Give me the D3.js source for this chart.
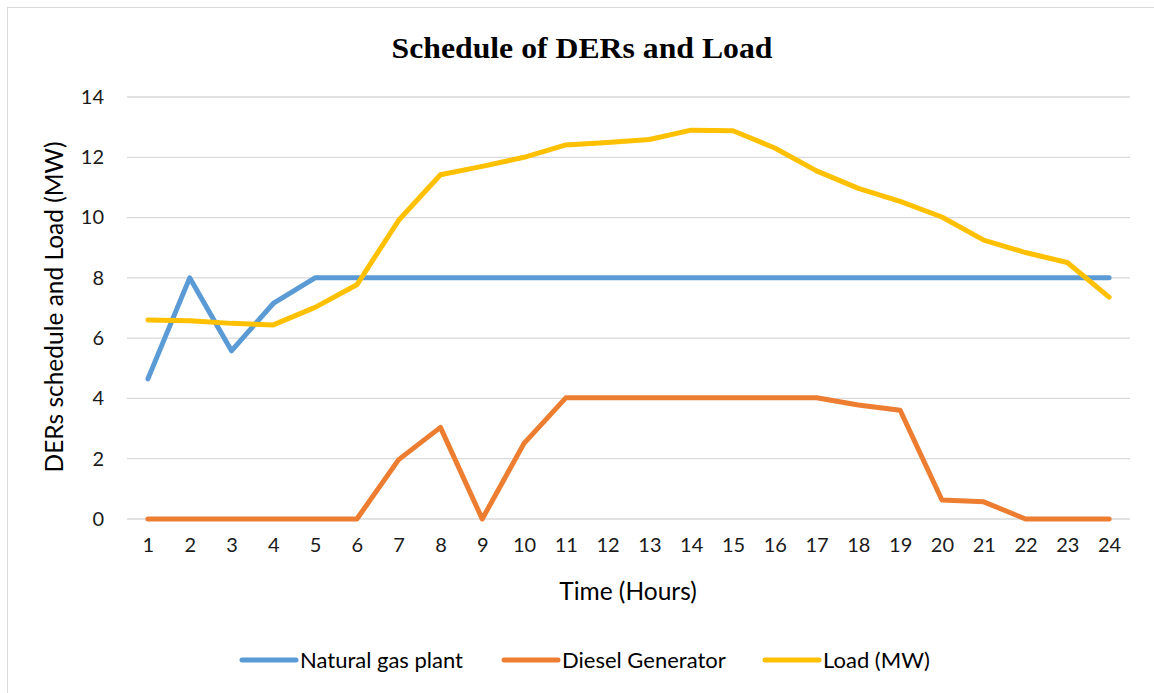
<!DOCTYPE html>
<html>
<head>
<meta charset="utf-8">
<script src="https://cdn.jsdelivr.net/npm/d3@7"></script>
<style>
  body { margin: 0; background: #fff; }
  svg { display: block; font-family: Lato, "Open Sans", sans-serif; }
</style>
</head>
<body>
<svg id="chart"></svg>
<script>
const width = 1154;
const height = 693;

const hours = d3.range(1, 25).map(String);
const naturalGas = [4.65, 8, 5.58, 7.15, 8, 8, 8, 8, 8, 8, 8, 8, 8, 8, 8, 8, 8, 8, 8, 8, 8, 8, 8, 8];
const diesel = [0, 0, 0, 0, 0, 0, 1.97, 3.04, 0, 2.51, 4.02, 4.02, 4.02, 4.02, 4.02, 4.02, 4.02, 3.78, 3.61, 0.63, 0.57, 0, 0, 0];
const load = [6.6, 6.58, 6.49, 6.44, 7.02, 7.77, 9.91, 11.42, 11.7, 12.0, 12.41, 12.49, 12.59, 12.9, 12.88, 12.31, 11.55, 10.97, 10.54, 10.02, 9.25, 8.84, 8.51, 7.36];
const yTicks = [0, 2, 4, 6, 8, 10, 12, 14];

const series = [
    { name: "Natural gas plant", values: naturalGas, color: "#5B9BD5" },
    { name: "Diesel Generator", values: diesel, color: "#ED7D31" },
    { name: "Load (MW)", values: load, color: "#FFC000" }
];

const margin = { top: 97, right: 24, bottom: 174, left: 127 };

const svg = d3.select("#chart")
    .attr("width", width)
    .attr("height", height)
    .attr("viewBox", [0, 0, width, height]);

// chart frame (right and bottom edges fall outside the picture)
svg.append("rect")
    .attr("x", 7.5).attr("y", 7.5)
    .attr("width", width).attr("height", height)
    .attr("fill", "#fff")
    .attr("stroke", "#d9d9d9");

const x = d3.scalePoint()
    .domain(hours)
    .range([margin.left, width - margin.right])
    .padding(0.5);

const y = d3.scaleLinear()
    .domain([0, 14])
    .range([height - margin.bottom, margin.top]);

// gridlines
svg.append("g")
    .attr("stroke", "#d9d9d9")
    .attr("stroke-width", 1.3)
    .selectAll("line")
    .data(yTicks)
    .join("line")
    .attr("x1", margin.left)
    .attr("x2", width - margin.right)
    .attr("y1", d => y(d))
    .attr("y2", d => y(d));

// y axis labels
const yAxis = svg.append("g")
    .attr("transform", `translate(${margin.left - 14},0)`)
    .call(d3.axisLeft(y).tickValues(yTicks).tickSize(0).tickPadding(9));
yAxis.select(".domain").remove();
yAxis.selectAll("text")
    .attr("font-family", "Lato, sans-serif")
    .attr("font-size", 20)
    .attr("fill", "#1a1a1a");

// x axis labels
const xAxis = svg.append("g")
    .attr("transform", `translate(0,${y(0) + 9})`)
    .call(d3.axisBottom(x).tickSize(0).tickPadding(10));
xAxis.select(".domain").remove();
xAxis.selectAll("text")
    .attr("font-family", "Lato, sans-serif")
    .attr("font-size", 20)
    .attr("fill", "#1a1a1a");

// lines
const line = d3.line()
    .x((d, i) => x(hours[i]))
    .y(d => y(d));

svg.append("g")
    .selectAll("path")
    .data(series)
    .join("path")
    .attr("fill", "none")
    .attr("stroke", d => d.color)
    .attr("stroke-width", 5)
    .attr("stroke-linejoin", "round")
    .attr("stroke-linecap", "round")
    .attr("d", d => line(d.values));

// title
svg.append("text")
    .attr("x", 582)
    .attr("y", 58)
    .attr("text-anchor", "middle")
    .attr("font-family", "'Liberation Serif', 'Times New Roman', serif")
    .attr("font-weight", "bold")
    .attr("font-size", 30)
    .attr("textLength", 381)
    .attr("lengthAdjust", "spacingAndGlyphs")
    .attr("fill", "#000")
    .text("Schedule of DERs and Load");

// axis titles
svg.append("text")
    .attr("x", 628)
    .attr("y", 600)
    .attr("text-anchor", "middle")
    .attr("font-size", 24.5)
    .attr("fill", "#000")
    .text("Time (Hours)");

svg.append("text")
    .attr("transform", `translate(63,${y(7) - 1}) rotate(-90)`)
    .attr("text-anchor", "middle")
    .attr("font-size", 24.5)
    .attr("fill", "#000")
    .text("DERs schedule and Load (MW)");

// legend
const legendX = [242, 504, 765];
const legend = svg.append("g")
    .selectAll("g")
    .data(series)
    .join("g")
    .attr("transform", (d, i) => `translate(${legendX[i]},660)`);

legend.append("line")
    .attr("x1", 0).attr("x2", 54)
    .attr("stroke", d => d.color)
    .attr("stroke-width", 5)
    .attr("stroke-linecap", "round");

legend.append("text")
    .attr("x", 58)
    .attr("dy", "0.35em")
    .attr("font-size", 22)
    .attr("fill", "#000")
    .text(d => d.name);
</script>
</body>
</html>
